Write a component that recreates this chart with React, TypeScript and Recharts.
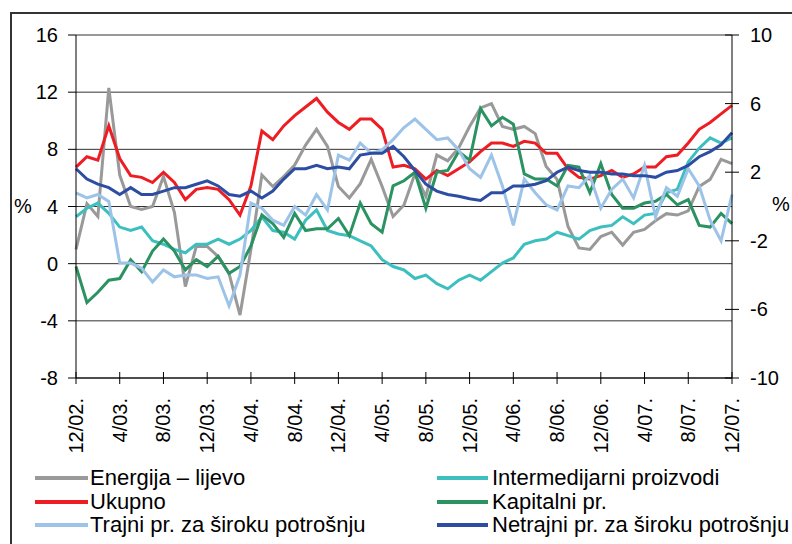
import { LineChart, Line, XAxis, YAxis, CartesianGrid } from "recharts";

const FONT = "'Liberation Sans', Arial, sans-serif";

// monthly, 12/2002 - 12/2007
const months = [
  "12/02.",
  "1/03.", "2/03.", "3/03.", "4/03.", "5/03.", "6/03.", "7/03.", "8/03.", "9/03.", "10/03.", "11/03.", "12/03.",
  "1/04.", "2/04.", "3/04.", "4/04.", "5/04.", "6/04.", "7/04.", "8/04.", "9/04.", "10/04.", "11/04.", "12/04.",
  "1/05.", "2/05.", "3/05.", "4/05.", "5/05.", "6/05.", "7/05.", "8/05.", "9/05.", "10/05.", "11/05.", "12/05.",
  "1/06.", "2/06.", "3/06.", "4/06.", "5/06.", "6/06.", "7/06.", "8/06.", "9/06.", "10/06.", "11/06.", "12/06.",
  "1/07.", "2/07.", "3/07.", "4/07.", "5/07.", "6/07.", "7/07.", "8/07.", "9/07.", "10/07.", "11/07.", "12/07.",
];

// left axis
const energija = [
  1.0, 4.2, 3.3, 12.3, 6.2, 4.0, 3.8, 4.0, 6.1, 3.6, -1.6, 1.2, 1.2,
  0.5, -0.7, -3.6, 1.0, 6.2, 5.4, 6.1, 6.9, 8.3, 9.4, 8.2, 5.4,
  4.6, 5.6, 7.3, 5.4, 3.3, 4.1, 6.3, 4.7, 7.6, 7.2, 8.1, 9.6,
  10.9, 11.2, 9.6, 9.4, 9.6, 9.1, 6.8, 5.9, 2.6, 1.1, 1.0, 1.9,
  2.2, 1.3, 2.2, 2.4, 3.0, 3.5, 3.4, 3.7, 5.4, 5.9, 7.3, 7.0,
];

// right axis
const intermedijarni = [
  -0.6, -0.1, 0.2, -0.4, -1.2, -1.4, -1.2, -2.0, -2.2, -2.5, -2.7, -2.2, -2.2,
  -1.9, -2.2, -1.9, -1.4, -0.6, -1.4, -1.5, -1.9, -0.8, -0.2, -1.4, -1.6,
  -1.7, -2.0, -2.3, -3.1, -3.5, -3.7, -4.2, -4.0, -4.5, -4.8, -4.3, -4.0,
  -4.3, -3.8, -3.3, -3.0, -2.2, -2.0, -1.9, -1.5, -1.7, -1.9, -1.4, -1.2,
  -1.1, -0.6, -1.0, -0.5, -0.4, 0.8, 1.0, 2.6, 3.4, 4.0, 3.7, 4.0,
];

const ukupno = [
  2.3, 2.9, 2.7, 4.7, 2.8, 1.8, 1.7, 1.4, 2.0, 1.4, 0.4, 1.0, 1.1,
  1.0, 0.4, -0.5, 1.2, 4.4, 3.9, 4.7, 5.3, 5.8, 6.3, 5.5, 4.9,
  4.5, 5.1, 5.1, 4.5, 2.3, 2.4, 2.2, 1.6, 2.1, 1.8, 2.2, 2.6,
  3.2, 3.7, 3.7, 3.5, 3.8, 3.7, 3.1, 3.1, 2.2, 1.7, 1.6, 1.8,
  2.1, 1.7, 1.9, 2.3, 2.3, 2.9, 3.0, 3.7, 4.5, 4.9, 5.4, 5.9,
];

const kapitalni = [
  -3.5, -5.6, -5.0, -4.3, -4.2, -3.1, -3.8, -2.6, -1.9, -2.6, -3.7, -3.1, -3.5,
  -2.9, -3.9, -3.5, -2.3, -0.5, -1.0, -1.8, -0.4, -1.4, -1.3, -1.3, -0.7,
  -1.7, 0.2, -1.0, -1.5, 1.2, 1.5, 2.0, -0.1, 2.0, 2.1, 3.2, 2.7,
  5.7, 4.7, 5.2, 4.8, 1.9, 1.6, 1.6, 1.2, 2.4, 2.3, 0.8, 2.5,
  0.7, -0.1, -0.1, 0.2, 0.3, 0.7, 0.1, 0.4, -1.1, -1.2, -0.4, -1.0,
];

const trajni = [
  0.8, 0.5, 0.7, 0.3, -3.3, -3.3, -3.6, -4.4, -3.7, -4.1, -4.0, -4.0, -4.2,
  -4.1, -5.8, -4.0, 0.2, -0.1, -0.8, -1.1, 0.0, -0.5, 0.7, -0.2, 3.0,
  2.7, 3.7, 3.1, 3.3, 3.9, 4.6, 5.1, 4.5, 3.9, 4.0, 3.3, 2.2,
  1.7, 3.0, 1.2, -1.1, 1.6, 0.8, 0.1, -0.2, 1.2, 1.1, 1.8, -0.1,
  1.0, 1.6, 0.5, 2.4, -0.6, 1.1, 0.6, 2.2, 1.2, -0.8, -2.0, 0.7,
];

const netrajni = [
  2.2, 1.6, 1.3, 1.1, 0.7, 1.1, 0.7, 0.7, 0.9, 1.1, 1.1, 1.3, 1.5,
  1.2, 0.7, 0.6, 0.9, 0.5, 0.9, 1.6, 2.2, 2.2, 2.4, 2.2, 2.3,
  2.2, 3.0, 3.1, 3.1, 3.5, 2.9, 2.1, 1.3, 0.9, 0.7, 0.6, 0.45,
  0.35, 0.8, 0.8, 1.2, 1.2, 1.3, 1.5, 2.0, 2.3, 2.1, 2.0, 2.0,
  1.9, 1.9, 1.8, 1.8, 1.7, 2.0, 2.1, 2.4, 2.9, 3.2, 3.6, 4.3,
];

const leftTicks = [-8, -4, 0, 4, 8, 12, 16];
const rightTicks = [-10, -6, -2, 2, 6, 10];

const data = months.map((m, i) => ({
  m,
  energija: energija[i],
  intermedijarni: intermedijarni[i],
  ukupno: ukupno[i],
  kapitalni: kapitalni[i],
  trajni: trajni[i],
  netrajni: netrajni[i],
}));

const series = [
  { key: "energija", name: "Energija – lijevo", color: "#999999", axis: "l" },
  { key: "intermedijarni", name: "Intermedijarni proizvodi", color: "#3DBFBF", axis: "r" },
  { key: "ukupno", name: "Ukupno", color: "#EE1D23", axis: "r" },
  { key: "kapitalni", name: "Kapitalni pr.", color: "#2B9262", axis: "r" },
  { key: "trajni", name: "Trajni pr. za široku potrošnju", color: "#9DC3E8", axis: "r" },
  { key: "netrajni", name: "Netrajni pr. za široku potrošnju", color: "#2C4DA2", axis: "r" },
];

function XTick(props: any) {
  const { x, y, payload } = props;
  return (
    <g>
      <line x1={x} x2={x} y1={y - 6} y2={y + 6} stroke="#000" />
      <text
        transform={`translate(${x},${y + 20}) rotate(-90)`}
        textAnchor="end"
        dominantBaseline="central"
        fontSize={20}
        fontFamily={FONT}
        fill="#000"
      >
        {payload.value}
      </text>
    </g>
  );
}

function RightTick(props: any) {
  const { x, y, payload } = props;
  return (
    <g>
      <line x1={x - 7} x2={x + 7} y1={y} y2={y} stroke="#000" />
      <text x={x + 18} y={y} textAnchor="start" dominantBaseline="central" fontSize={20} fontFamily={FONT} fill="#000">
        {payload.value}
      </text>
    </g>
  );
}

export default function App() {
  // legend order: left column then right column, row by row
  const rows = [
    [series[0], series[1]],
    [series[2], series[3]],
    [series[4], series[5]],
  ];

  return (
    <div style={{ position: "absolute", left: 0, top: 0, width: 792, height: 544, background: "#fff", fontFamily: FONT, overflow: "hidden" }}>
      <div style={{ position: "absolute", left: 10, top: 12, width: 800, height: 560, borderLeft: "2px solid #333", borderTop: "2px solid #333" }} />
      <LineChart width={792} height={544} data={data} margin={{ top: 35, right: 4, bottom: 76, left: 8 }}>
        <CartesianGrid yAxisId="l" vertical={false} stroke="#333" />
        <XAxis
          dataKey="m"
          interval={3}
          height={90}
          tickSize={0}
          tickMargin={0}
          tickLine={false}
          axisLine={{ stroke: "#000" }}
          tick={(p: any) => <XTick {...p} />}
        />
        <YAxis
          yAxisId="l"
          width={68}
          domain={[-8, 16]}
          ticks={leftTicks}
          interval={0}
          tickSize={8}
          tickMargin={10}
          tickLine={{ stroke: "#000" }}
          axisLine={{ stroke: "#000" }}
          tick={{ fontSize: 20, fill: "#000", fontFamily: FONT }}
        />
        <YAxis
          yAxisId="r"
          orientation="right"
          width={56}
          domain={[-10, 10]}
          ticks={rightTicks}
          interval={0}
          tickSize={0}
          tickMargin={0}
          tickLine={false}
          axisLine={{ stroke: "#000" }}
          tick={(p: any) => <RightTick {...p} />}
        />
        {series.map((s) => (
          <Line
            key={s.key}
            yAxisId={s.axis}
            dataKey={s.key}
            name={s.name}
            type="linear"
            stroke={s.color}
            strokeWidth={3}
            dot={false}
            activeDot={false}
            isAnimationActive={false}
          />
        ))}
      </LineChart>

      <div style={{ position: "absolute", left: 14, top: 194, fontSize: 20, lineHeight: "24px" }}>%</div>
      <div style={{ position: "absolute", left: 772, top: 192, fontSize: 20, lineHeight: "24px" }}>%</div>

      {rows.map((row, r) =>
        row.map((s, c) => (
          <div
            key={s.key}
            style={{
              position: "absolute",
              left: c === 0 ? 35 : 437,
              top: 465 + r * 23.5,
              display: "flex",
              alignItems: "center",
              fontSize: 22,
              lineHeight: "26px",
              whiteSpace: "nowrap",
            }}
          >
            <span style={{ display: "inline-block", width: c === 0 ? 53 : 51, height: 4, background: s.color, marginRight: c === 0 ? 2 : 4 }} />
            <span>{s.name}</span>
          </div>
        ))
      )}
    </div>
  );
}
